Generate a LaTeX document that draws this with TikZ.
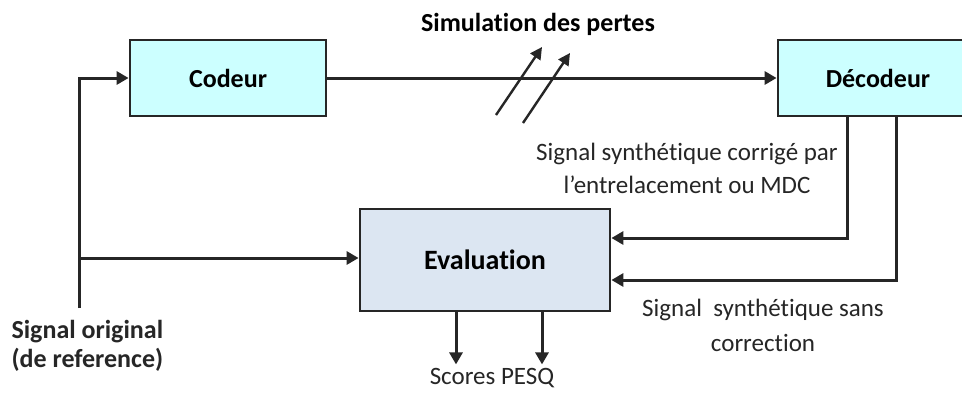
\documentclass[tikz,border=0pt]{standalone}
\usepackage{fontspec}
\setmainfont{Carlito}[Ligatures={NoCommon,NoContextual}]
\usetikzlibrary{arrows.meta, positioning, calc}

\begin{document}
\begin{tikzpicture}[x=1pt, y=-1pt,
    block/.style={draw=black!85, line width=2.8pt, fill=cyan!20, inner sep=0pt, minimum width=196pt, minimum height=76pt, align=center, font=\fontsize{26}{31}\selectfont\bfseries},
    evalblock/.style={block, fill=blue!8!gray!20, minimum width=250pt, minimum height=102pt, font=\fontsize{28}{33}\selectfont\bfseries},
    signal/.style={-{Triangle[length=12pt, width=13pt]}, draw=black!85, line width=3pt},
    loss/.style={-{Triangle[length=12pt, width=12pt]}, draw=black!85, line width=2.4pt},
    label/.style={font=\fontsize{25}{33}\selectfont, align=center, text=black!85}
]
\clip (0,0) rectangle (962,392);
\fill[white] (0,0) rectangle (962,392);

% Codeur
\node[block, fill={rgb,255:red,204;green,255;blue,255}] (codeur) at (228,78) {Codeur};

% Decodeur
\node[block, fill={rgb,255:red,204;green,255;blue,255}, minimum width=200pt] (decodeur) at (878,78) {D\'ecodeur};

% Evaluation
\node[evalblock, fill={rgb,255:red,220;green,230;blue,242}] (evaluation) at (485,260) {Evaluation};

% Codeur to decodeur
\draw[signal] (codeur.east) -- (decodeur.west);

% Simulation des pertes
\node[font=\fontsize{26}{31}\selectfont\bfseries] (pertes) at (538,24) {Simulat{}ion des pertes};
\coordinate (loss1a) at (496,115);
\coordinate (loss1b) at (542,47);
\coordinate (loss2a) at (523,123);
\coordinate (loss2b) at (570,53);
\draw[loss] (loss1a) -- (loss1b);
\draw[loss] (loss2a) -- (loss2b);

% Signal original
\coordinate (orig) at (79,308);
\coordinate (split) at (79,258);
\draw[signal] (orig) |- (codeur.west);
\draw[signal] (split) -- (split -| evaluation.west);
\node[anchor=west, align=left, font=\fontsize{26}{29}\selectfont\bfseries, text=black!85] (origtxt) at (8,346) {Signal original\\(de reference)};

% Decodeur to evaluation
\coordinate (corr) at ($(decodeur.south west)+(71,0)$);
\coordinate (sans) at ($(decodeur.south west)+(120,0)$);
\draw[signal] (corr) |- ([yshift=22pt]evaluation.east);
\draw[signal] (sans) |- ([yshift=-20pt]evaluation.east);
\node[label] (corrtxt) at (687,168) {Signal synth\'et{}ique corrig\'e par\\l'entrelacement ou MDC};
\node[label, font=\fontsize{25}{35}\selectfont] (sanstxt) at (763,325) {Signal~~synth\'et{}ique sans\\correct{}ion};

% Scores
\draw[signal] ([xshift=-29pt]evaluation.south) -- ++(0,52);
\draw[signal] ([xshift=57pt]evaluation.south) -- ++(0,52);
\node[label] (scores) at (492,378) {Scores PESQ};

\end{tikzpicture}
\end{document}
